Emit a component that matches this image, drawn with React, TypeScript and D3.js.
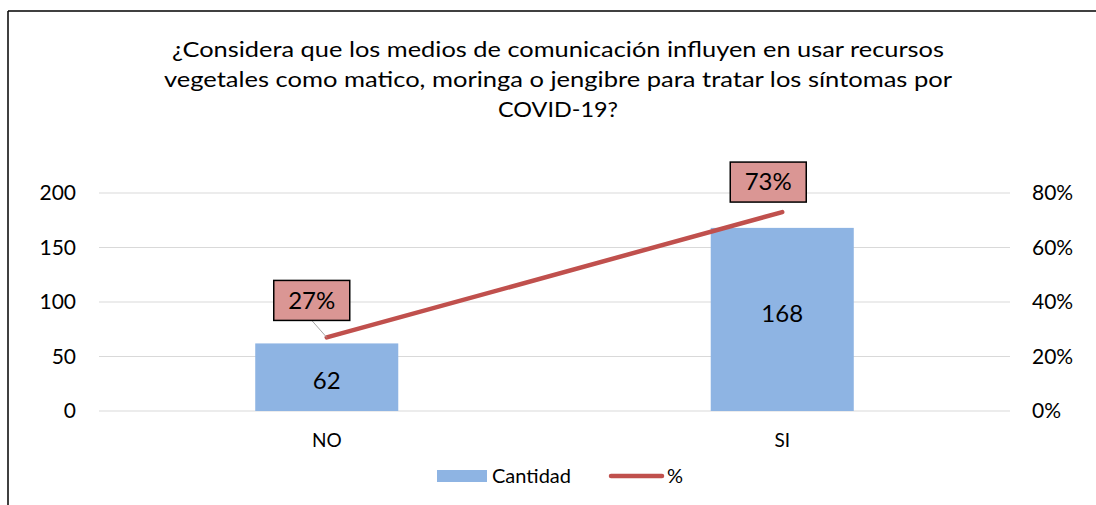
import React from "react";
import * as d3 from "d3";

const categories = ["NO", "SI"];
const cantidad = [62, 168];
const percent = [0.27, 0.73];
const leftTicks = [0, 50, 100, 150, 200];
const rightTicks = [0, 0.2, 0.4, 0.6, 0.8];
const titleLines = [
  "¿Considera que los medios de comunicación influyen en usar recursos",
  "vegetales como matico, moringa o jengibre para tratar los síntomas por",
  "COVID-19?",
];
const titleWidths = [772, 788, 120];

const W = 1096;
const H = 505;
const FONT = "Lato, 'Open Sans', sans-serif";

export default function App() {
  const left = 99, right = 1010, top = 193, bottom = 411;
  const x = d3.scaleBand<string>().domain(categories).range([left, right]).paddingInner(0.686).paddingOuter(0.343);
  const y = d3.scaleLinear().domain([0, 200]).range([bottom, top]);
  const y2 = d3.scaleLinear().domain([0, 0.8]).range([bottom, top]);
  const cx = (c: string) => (x(c) as number) + x.bandwidth() / 2;
  const line = d3.line<number>().x((_, i) => cx(categories[i])).y((d) => y2(d));

  const labelOffsets = [
    { dx: -15, dy: -37 },
    { dx: -14, dy: -30 },
  ];
  const barLabelShift = [3, -6];

  return (
    <svg width={W} height={H} style={{ position: "absolute", left: 0, top: 0, background: "#fff" }} fontFamily={FONT}>
      <rect x={0} y={0} width={W} height={H} fill="#fff" />
      <line x1={8} y1={11} x2={W} y2={11} stroke="#000" strokeWidth={1.5} />
      <line x1={8} y1={11} x2={8} y2={H} stroke="#000" strokeWidth={1.5} />
      {titleLines.map((t, i) => (
        <text key={i} x={558} y={57 + i * 30} textAnchor="middle" fontSize={21} fill="#000"
          textLength={titleWidths[i]} lengthAdjust="spacingAndGlyphs">{t}</text>
      ))}
      {leftTicks.map((t) => (
        <g key={t}>
          <line x1={left} x2={right} y1={y(t)} y2={y(t)} stroke="#d9d9d9" strokeWidth={1} />
          <text x={76} y={y(t)} dy="0.35em" textAnchor="end" fontSize={21} fill="#000">{t}</text>
        </g>
      ))}
      {rightTicks.map((t) => (
        <text key={t} x={1032} y={y2(t)} dy="0.35em" textAnchor="start" fontSize={21} fill="#000">{d3.format(".0%")(t)}</text>
      ))}
      {categories.map((c, i) => (
        <g key={c}>
          <rect x={x(c)} y={y(cantidad[i])} width={x.bandwidth()} height={bottom - y(cantidad[i])} fill="#8EB4E3" />
          <text x={cx(c)} y={(y(cantidad[i]) + bottom) / 2 + barLabelShift[i]} dy="0.35em" textAnchor="middle" fontSize={24} fill="#000">{cantidad[i]}</text>
          <text x={cx(c)} y={440} dy="0.35em" textAnchor="middle" fontSize={19} fill="#000">{c}</text>
        </g>
      ))}
      <path d={line(percent) || ""} fill="none" stroke="#C0504D" strokeWidth={4.5} strokeLinecap="round" />
      {categories.map((c, i) => {
        const px = cx(c), py = y2(percent[i]);
        const bx = px + labelOffsets[i].dx, by = py + labelOffsets[i].dy;
        return (
          <g key={"l" + c}>
            {i === 0 && <line x1={px} y1={py} x2={bx} y2={by + 20} stroke="#a6a6a6" strokeWidth={1} />}
            <rect x={bx - 38} y={by - 20} width={76} height={40} fill="#DA9694" stroke="#000" strokeWidth={1.5} />
            <text x={bx} y={by} dy="0.35em" textAnchor="middle" fontSize={24} fill="#000">{d3.format(".0%")(percent[i])}</text>
          </g>
        );
      })}
      <rect x={437} y={470} width={50} height={12} fill="#8EB4E3" />
      <text x={492} y={476} dy="0.35em" fontSize={20} fill="#000">Cantidad</text>
      <line x1={611} x2={662} y1={476} y2={476} stroke="#C0504D" strokeWidth={4.5} strokeLinecap="round" />
      <text x={667} y={476} dy="0.35em" fontSize={20} fill="#000">%</text>
    </svg>
  );
}
